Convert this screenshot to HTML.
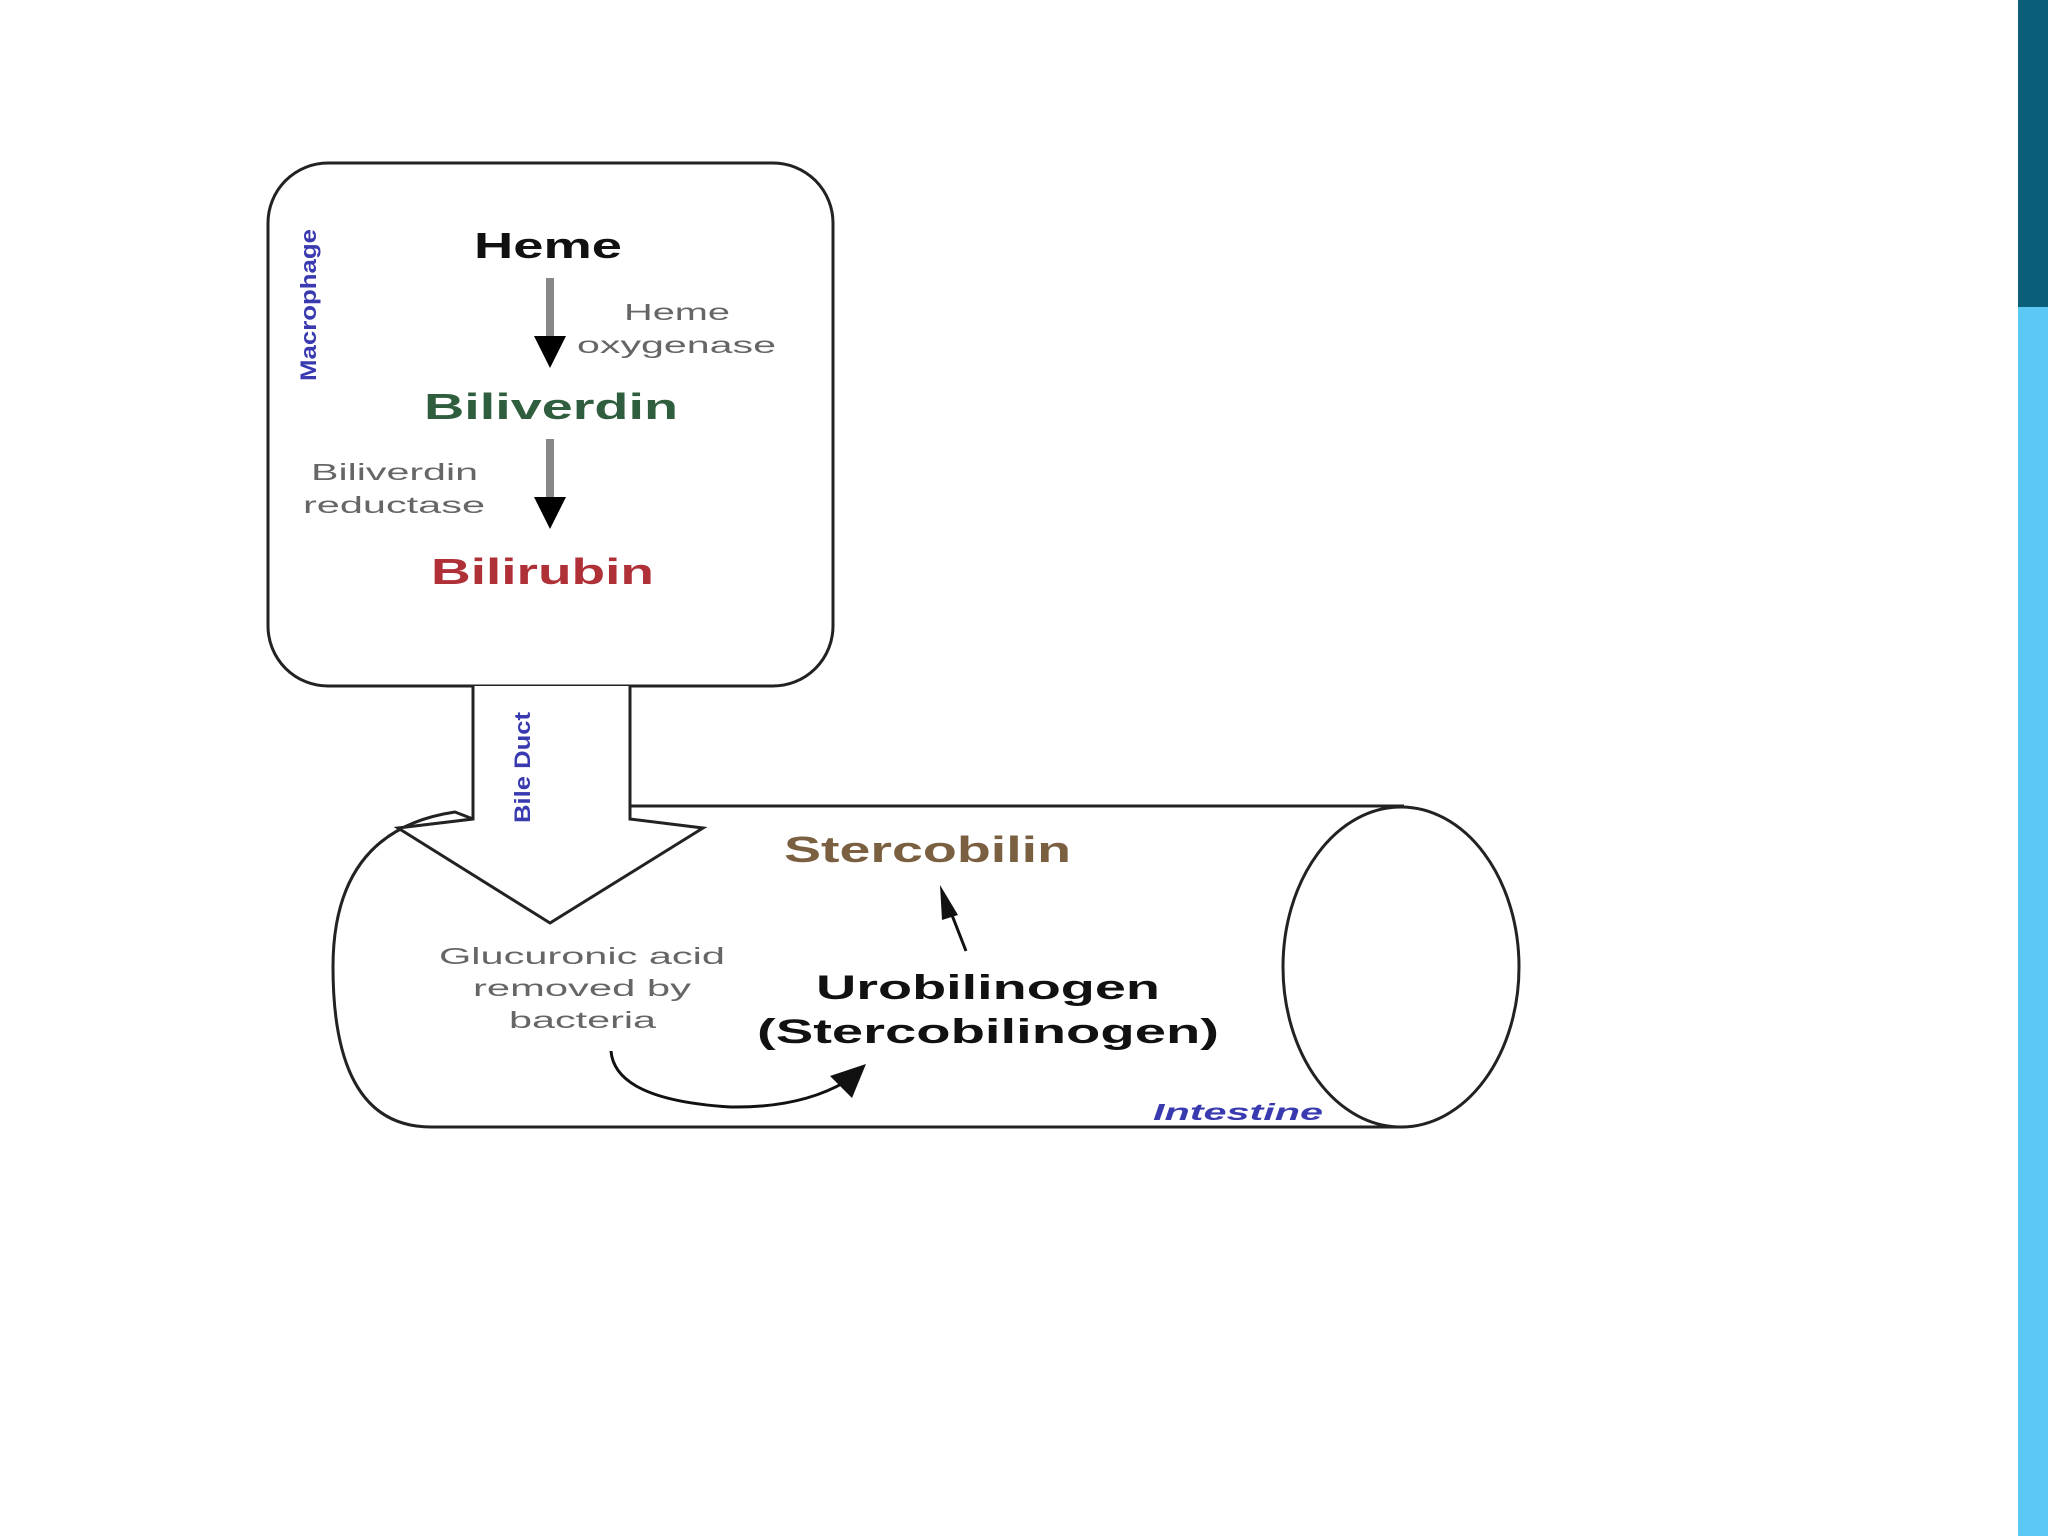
<!DOCTYPE html>
<html><head><meta charset="utf-8"><style>html,body{margin:0;padding:0;background:#fff}svg{display:block}</style></head>
<body>
<svg width="2048" height="1536" viewBox="0 0 2048 1536" xmlns="http://www.w3.org/2000/svg" font-family="Liberation Sans, sans-serif">
<rect width="2048" height="1536" fill="#fff"/>
<rect x="2018" y="0" width="30" height="307" fill="#0b5e78"/>
<rect x="2018" y="307" width="30" height="1229" fill="#5bc8f5"/>
<defs>
<marker id="ah" markerWidth="10" markerHeight="10" refX="5" refY="5" orient="auto" markerUnits="userSpaceOnUse"></marker>
</defs>
<!-- Macrophage box -->
<rect x="268" y="163" width="565" height="523" rx="60" fill="#fff" stroke="#222" stroke-width="3"/>
<!-- intestine -->
<path d="M630 806 L1404 806 M630 806 L630 819" fill="none" stroke="#222" stroke-width="3"/>
<path d="M473 819 L455 812 Q333 830 333 967 Q333 1127 431 1127 L1404 1127" fill="none" stroke="#222" stroke-width="3"/>
<ellipse cx="1401" cy="967" rx="118" ry="160" fill="#fff" stroke="#222" stroke-width="3"/>
<!-- bile duct arrow -->
<path d="M473 686 L473 819 L398 828 L550 923 L703 828 L630 819 L630 686" fill="#fff" stroke="#222" stroke-width="3"/>
<!-- arrows in box -->
<line x1="550" y1="278" x2="550" y2="340" stroke="#888" stroke-width="8"/>
<polygon points="534,336 566,336 550,368" fill="#000"/>
<line x1="550" y1="439" x2="550" y2="500" stroke="#888" stroke-width="8"/>
<polygon points="534,497 566,497 550,529" fill="#000"/>
<!-- labels -->
<text x="474" y="258" font-size="36" font-weight="bold" fill="#111" textLength="148" lengthAdjust="spacingAndGlyphs">Heme</text>
<text x="624" y="320" font-size="23" fill="#666" textLength="106" lengthAdjust="spacingAndGlyphs">Heme</text>
<text x="577" y="353" font-size="23" fill="#666" textLength="199" lengthAdjust="spacingAndGlyphs">oxygenase</text>
<text x="424" y="419" font-size="36" font-weight="bold" fill="#2f5e3e" textLength="254" lengthAdjust="spacingAndGlyphs">Biliverdin</text>
<text x="311" y="480" font-size="23" fill="#666" textLength="167" lengthAdjust="spacingAndGlyphs">Biliverdin</text>
<text x="303" y="513" font-size="23" fill="#666" textLength="182" lengthAdjust="spacingAndGlyphs">reductase</text>
<text x="431" y="584" font-size="36" font-weight="bold" fill="#b03038" textLength="223" lengthAdjust="spacingAndGlyphs">Bilirubin</text>
<text transform="translate(316,381) rotate(-90)" font-size="22" font-weight="bold" fill="#3a3ab0" textLength="152" lengthAdjust="spacingAndGlyphs">Macrophage</text>
<text transform="translate(530,823) rotate(-90)" font-size="22" font-weight="bold" fill="#3a3ab0" textLength="111" lengthAdjust="spacingAndGlyphs">Bile Duct</text>
<text x="784" y="862" font-size="36" font-weight="bold" fill="#7a6040" textLength="287" lengthAdjust="spacingAndGlyphs">Stercobilin</text>
<line x1="966" y1="951" x2="950" y2="910" stroke="#111" stroke-width="3"/>
<polygon points="940,885 958,915 942,920" fill="#111"/>
<text x="816" y="999" font-size="34" font-weight="bold" fill="#111" textLength="344" lengthAdjust="spacingAndGlyphs">Urobilinogen</text>
<text x="757" y="1043" font-size="34" font-weight="bold" fill="#111" textLength="462" lengthAdjust="spacingAndGlyphs">(Stercobilinogen)</text>
<text x="439" y="964" font-size="23" fill="#666" textLength="286" lengthAdjust="spacingAndGlyphs">Glucuronic acid</text>
<text x="473" y="996" font-size="23" fill="#666" textLength="218" lengthAdjust="spacingAndGlyphs">removed by</text>
<text x="509" y="1028" font-size="23" fill="#666" textLength="147" lengthAdjust="spacingAndGlyphs">bacteria</text>
<path d="M611 1051 Q615 1100 731 1107 Q800 1108 845 1082" fill="none" stroke="#111" stroke-width="3"/>
<polygon points="866,1064 830,1076 852,1098" fill="#111"/>
<text x="1153" y="1120" font-size="23" font-weight="bold" font-style="italic" fill="#3a3ab0" textLength="170" lengthAdjust="spacingAndGlyphs">Intestine</text>
</svg>
</body></html>
